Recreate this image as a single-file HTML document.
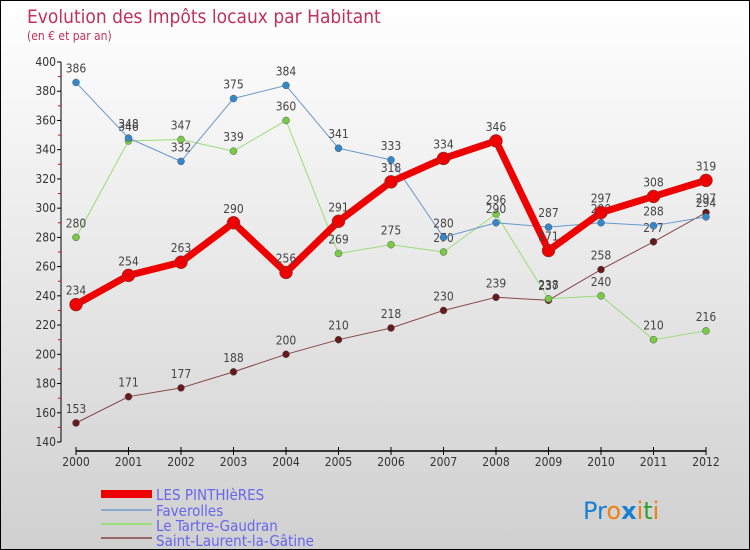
<!DOCTYPE html>
<html><head><meta charset="utf-8"><style>
body{margin:0;}
#c{width:750px;height:550px;position:relative;overflow:hidden;box-sizing:border-box;border:1px solid #000;background:linear-gradient(#ffffff,#d0d0d0);font-family:"DejaVu Sans Condensed","Liberation Sans",sans-serif;}
</style></head><body>
<div id="c">
<svg id="s" width="750" height="550" style="position:absolute;left:0;top:0">
<text x="26" y="22" font-size="19" fill="#c0305a">Evolution des Impôts locaux par Habitant</text>
<text x="26" y="39" font-size="12" fill="#c0305a">(en € et par an)</text>
<g id="axes"></g><g id="series"></g>
<g>
<rect x="100" y="489" width="51" height="8" fill="#e00"/>
<text x="155" y="499" font-size="15" fill="#6666ee">LES PINTHIèRES</text>
<rect x="100" y="508" width="51" height="2" fill="#88aacc"/>
<text x="155" y="515" font-size="15" fill="#6666ee">Faverolles</text>
<rect x="100" y="522" width="51" height="2" fill="#99dd77"/>
<text x="155" y="530" font-size="15" fill="#6666ee">Le Tartre-Gaudran</text>
<rect x="100" y="536" width="51" height="2" fill="#996666"/>
<text x="155" y="545" font-size="15" fill="#6666ee">Saint-Laurent-la-Gâtine</text>
</g>
<text x="582" y="518" font-size="24" font-family="'DejaVu Sans',sans-serif"><tspan fill="#1a7fd0">Pr</tspan><tspan fill="#f08010">o</tspan><tspan fill="#1a7fd0" font-weight="bold">x</tspan><tspan fill="#f08010">i</tspan><tspan fill="#30a030">t</tspan><tspan fill="#f08010">i</tspan></text>
</svg>
</div>
<script>
const years=[2000,2001,2002,2003,2004,2005,2006,2007,2008,2009,2010,2011,2012];
const yTicks=[140,160,180,200,220,240,260,280,300,320,340,360,380,400];
const pinthieres=[234,254,263,290,256,291,318,334,346,271,297,308,319];
const faverolles=[386,348,332,375,384,341,333,280,290,287,290,288,294];
const tartre=[280,346,347,339,360,269,275,270,296,238,240,210,216];
const saintLaurent=[153,171,177,188,200,210,218,230,239,237,258,277,297];
const NS="http://www.w3.org/2000/svg";
function X(i){return 75+i*(630/(years.length-1));}
function Y(v){return 441-(v-140)*(380/260);}
function mk(t,a,p){const e=document.createElementNS(NS,t);for(const k in a)e.setAttribute(k,a[k]);p.appendChild(e);return e;}
const ax=document.getElementById('axes');
const yl=mk('line',{x1:60,y1:Y(400),x2:60,y2:Y(140),stroke:'#000'},ax);


const xl=mk('line',{x1:X(0),y1:450,x2:X(12),y2:450,stroke:'#000','stroke-width':1.5},ax);


yTicks.forEach(v=>{
 mk('line',{x1:56,x2:60,y1:Y(v),y2:Y(v),stroke:'#000'},ax);
 if(v<400)mk('line',{x1:57,x2:60,y1:Y(v+10),y2:Y(v+10),stroke:'#e00'},ax);
 const t=mk('text',{x:55,y:Y(v)+4,'font-size':12,'text-anchor':'end',fill:'#333'},ax);t.textContent=v;
 
 
});
years.forEach((yr,i)=>{
 mk('line',{x1:X(i),x2:X(i),y1:446,y2:454,stroke:'#000'},ax);
 const t=mk('text',{x:X(i),y:465,'font-size':12,'text-anchor':'middle',fill:'#333'},ax);t.textContent=yr;
 
 
});
const sg=document.getElementById('series');
function draw(data,name,color,w,r,dot){
 const g=mk('g',{},sg);
 
 
 const pl=mk('polyline',{points:data.map((v,i)=>X(i)+','+Y(v)).join(' '),fill:'none',stroke:color,'stroke-width':w,'stroke-linejoin':'round'},g);
 
 
 data.forEach((v,i)=>{
  const c=mk('circle',{cx:X(i),cy:Y(v),r:r,fill:dot,stroke:'#555','stroke-width':0.5},g);
  
  
  const t=mk('text',{x:X(i),y:Y(v)-10,'font-size':12,'text-anchor':'middle',fill:'#444'},g);t.textContent=v;
  
  
 });
}
draw(saintLaurent,'saint-laurent','#884444',1,3.5,'#661a1a');
draw(tartre,'tartre','#99dd77',1,3.5,'#77cc44');
draw(faverolles,'faverolles','#6699cc',1,3.5,'#3388cc');
draw(pinthieres,'pinthieres','#ee0000',7,6.5,'#ee0000');
</script>
</body></html>
